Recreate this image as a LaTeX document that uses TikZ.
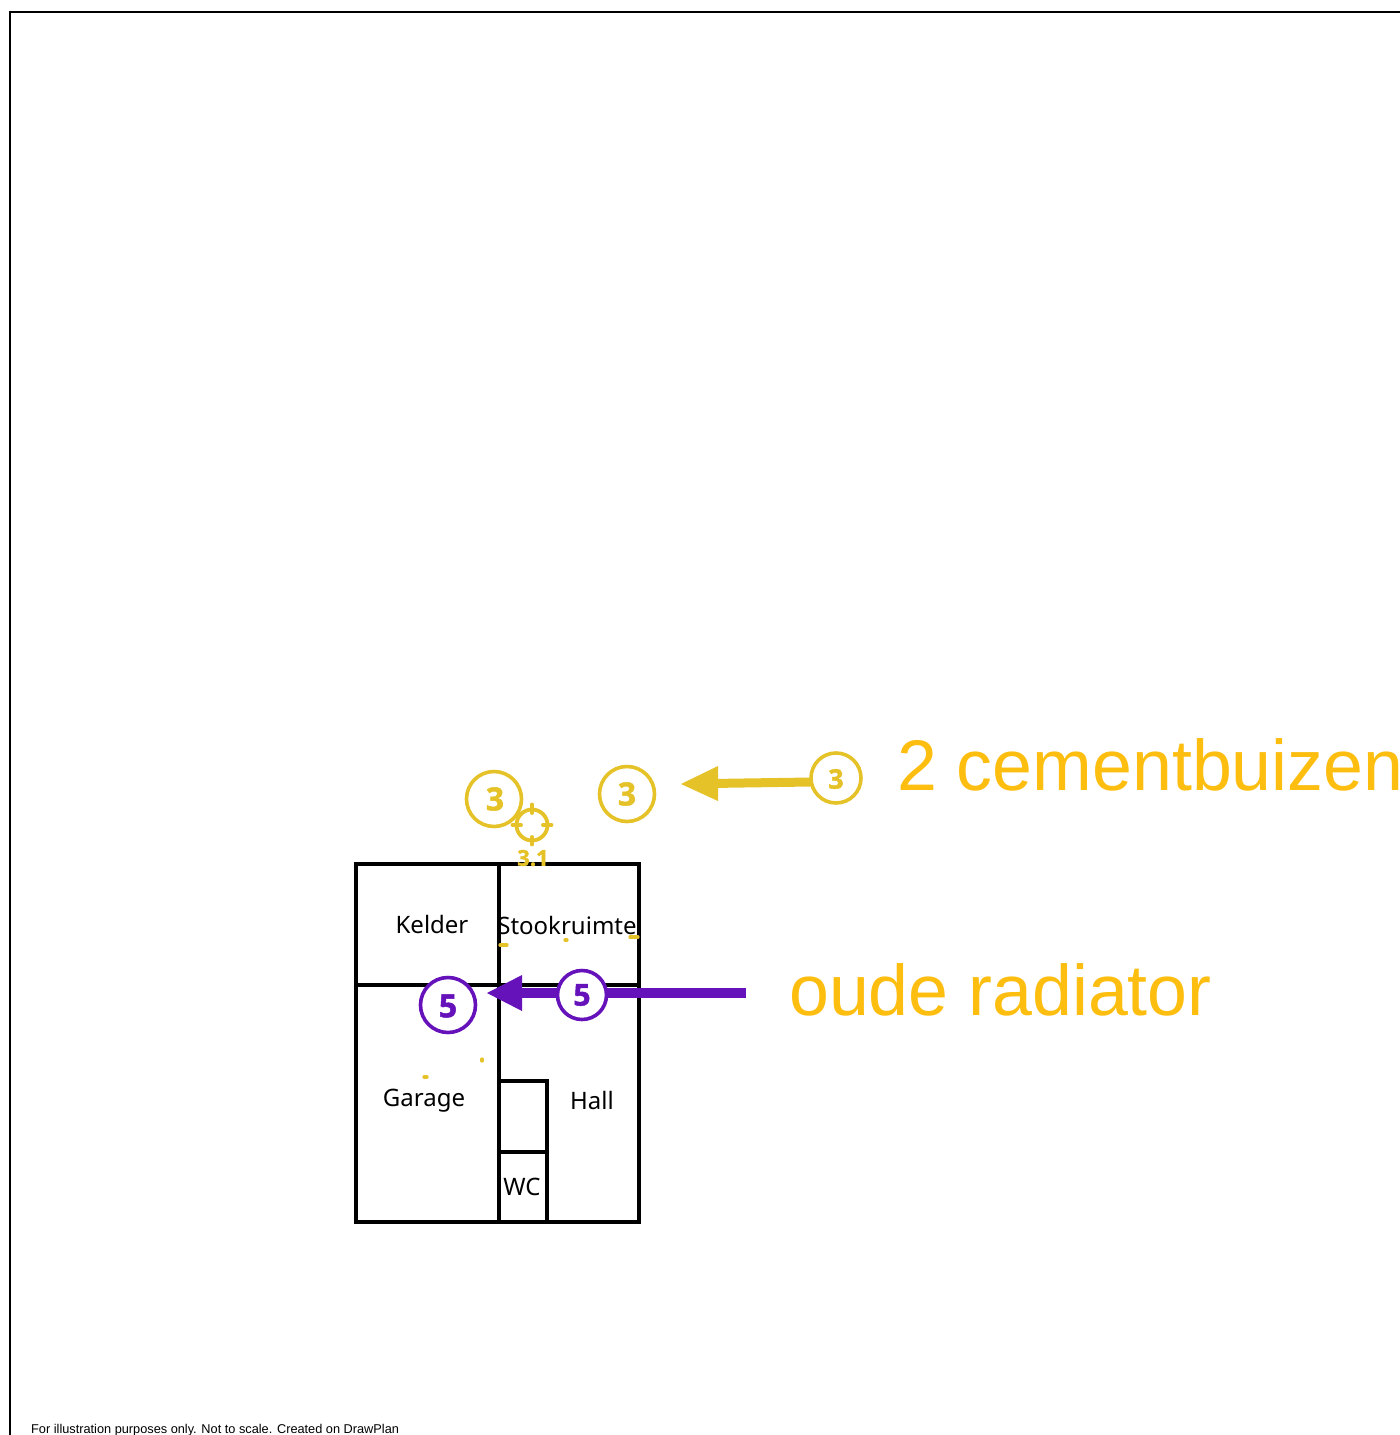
\documentclass[tikz,border=0pt]{standalone}
\usepackage{fontspec}
\setmainfont{Noto Sans}
\newfontfamily\lib{Liberation Sans}
\newfontfamily\bnum[FakeBold=1.5]{Open Sans}
\usetikzlibrary{arrows.meta}
\definecolor{ygold}{HTML}{E6C229}
\definecolor{orangey}{HTML}{FDBE10}
\definecolor{purp}{HTML}{6612BB}
\newcommand{\fs}[1]{\fontsize{#1}{#1}\selectfont}
\tikzset{
  x=1pt,y=-1pt,
  wall/.style={draw=black,line width=3.1pt,line cap=round,line join=miter},
  room/.style={text=black,font=\fs{24},inner sep=0pt},
  ybub/.style={circle,draw=ygold,line width=3.6pt,fill=white,text=ygold,font=\bnum\bfseries\fs{#1},inner sep=0pt},
  pbub/.style={circle,draw=purp,line width=3.6pt,fill=white,text=purp,font=\bnum\bfseries\fs{#1},inner sep=0pt},
  speck/.style={draw=ygold,line width=3.2pt,line cap=round},
  note/.style={text=orangey,font=\lib\fs{71.7},inner sep=0pt,anchor=base west}
}
\begin{document}
\begin{tikzpicture}
\useasboundingbox (0,0) rectangle (1400,1435);
\fill[white] (0,0) rectangle (1400,1435);
\draw[black,line width=2.8pt] (10,1435) -- (10,12) -- (1400,12);
% walls
\draw[wall] (356,864) rectangle (639,1222);
\draw[wall] (499,864) -- (499,1222);
\draw[wall] (356,985) -- (639,985);
\draw[wall] (499,1081) -- (547,1081) -- (547,1222);
\draw[wall] (499,1152) -- (547,1152);
% room labels
\node[room] (kelder) at (432,924) {Kelder};
\node[room] (stook) at (567,925) {Stookruimte};
\node[room] (garage) at (424,1101) {Garage};
\node[room] (hall) at (592,1100) {Hall};
\node[room] (wc) at (522,1187) {WC};
% specks
\draw[speck] (500,945) -- (507,945);
\draw[speck] (565,940) -- (567,940);
\draw[speck] (630,937) -- (638,937);
\draw[speck] (482,1059) -- (482,1061);
\draw[speck] (424,1077) -- (427,1077);
% yellow group
\coordinate (ytail) at (811,782);
\coordinate (ytip) at (681,784);
\draw[draw=ygold,line width=9pt] (ytail) -- (710,783.5);
\fill[ygold] (ytip) -- (718,766) -- (718,801) -- cycle;
\node[ybub=27,minimum size=50pt,text depth=0pt] (y3c) at (836,778) {};
\node[text=ygold,font=\bnum\bfseries\fs{27},inner sep=0pt] (y3ct) at (836,779) {3};
\node[ybub=32,minimum size=55pt] (y3b) at (627,794) {};
\node[text=ygold,font=\bnum\bfseries\fs{32},inner sep=0pt] (y3bt) at (627,794) {3};
\node[ybub=32,minimum size=55pt] (y3a) at (494,799) {};
\node[text=ygold,font=\bnum\bfseries\fs{32},inner sep=0pt] (y3at) at (495,799) {3};
% target
\node[circle,draw=ygold,line width=3.8pt,minimum size=31pt,inner sep=0pt] (tgt) at (532,825) {};
\draw[draw=ygold,line width=3.8pt,line cap=round]
  (532,804.5) -- (532,813) (532,837) -- (532,844.5) (512.5,825) -- (521,825) (543,825) -- (551.5,825);
\node[text=ygold,font=\bnum\bfseries\fs{22},inner sep=0pt] (t31) at (533,858) {3.1};
% purple group
\coordinate (ptail) at (746,993);
\draw[draw=purp,line width=10pt] (ptail) -- (515,993);
\fill[purp] (487,993) -- (522,975) -- (522,1011) -- cycle;
\node[pbub=32,minimum size=55pt] (p5a) at (448,1005) {};
\node[text=purp,font=\bnum\bfseries\fs{32},inner sep=0pt] (p5at) at (448,1006) {5};
\node[pbub=30,minimum size=49pt] (p5b) at (582,995) {};
\node[text=purp,font=\bnum\bfseries\fs{30},inner sep=0pt] (p5bt) at (582,995) {5};
% notes
\node[note] (n1) at (897,790) {2 cementbuizen};
\node[note] (n2) at (789,1015) {oude radiator};
\node[text=black,font=\lib\fs{12.75},inner sep=0pt,anchor=base west] (foot) at (31,1433) {For illustration purposes only. Not to scale. Created on DrawPlan};
\end{tikzpicture}
\end{document}
